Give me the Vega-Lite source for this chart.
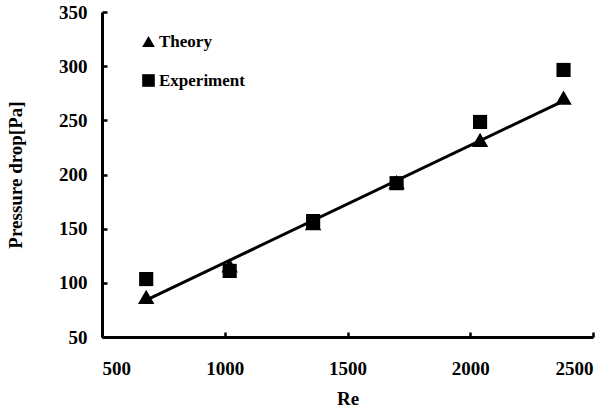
{
  "$schema": "https://vega.github.io/schema/vega-lite/v6.json",
  "width": 491,
  "height": 325,
  "autosize": "none",
  "padding": {"left": 102, "top": 12, "right": 21, "bottom": 72},
  "background": "white",
  "config": {
    "view": {"stroke": null},
    "font": "Liberation Serif",
    "axis": {
      "domainColor": "black",
      "domainWidth": 3,
      "tickColor": "black",
      "tickWidth": 2.5,
      "grid": false,
      "labelFont": "Liberation Serif",
      "labelFontWeight": "bold",
      "labelFontSize": 19,
      "labelColor": "black",
      "titleFont": "Liberation Serif",
      "titleFontWeight": "bold",
      "titleFontSize": 19,
      "titleColor": "black"
    }
  },
  "datasets": {
    "pts": [
      {"Re": 680, "dp": 87, "series": "Theory"},
      {"Re": 1020, "dp": 116, "series": "Theory"},
      {"Re": 1360, "dp": 155, "series": "Theory"},
      {"Re": 1700, "dp": 193, "series": "Theory"},
      {"Re": 2040, "dp": 232, "series": "Theory"},
      {"Re": 2380, "dp": 271, "series": "Theory"},
      {"Re": 680, "dp": 103.5, "series": "Experiment"},
      {"Re": 1020, "dp": 111, "series": "Experiment"},
      {"Re": 1360, "dp": 157, "series": "Experiment"},
      {"Re": 1700, "dp": 192, "series": "Experiment"},
      {"Re": 2040, "dp": 248.5, "series": "Experiment"},
      {"Re": 2380, "dp": 296.5, "series": "Experiment"}
    ],
    "fit": [
      {"Re": 680, "dp": 84},
      {"Re": 2380, "dp": 268}
    ]
  },
  "encoding": {
    "x": {"field": "Re", "type": "quantitative", "scale": {"domain": [500, 2500], "nice": false, "zero": false}, "axis": {"values": [500, 1000, 1500, 2000, 2500], "format": "d", "tickSize": -5, "labelPadding": 27, "title": "Re", "titlePadding": 11}},
    "y": {"field": "dp", "type": "quantitative", "scale": {"domain": [50, 350], "nice": false, "zero": false}, "axis": {"values": [50, 100, 150, 200, 250, 300, 350], "format": "d", "tickSize": -5, "labelPadding": 20, "title": "Pressure drop[Pa]", "titlePadding": 33}}
  },
  "layer": [
    {
      "data": {"name": "fit"},
      "mark": {"type": "line", "color": "black", "strokeWidth": 3}
    },
    {
      "data": {"name": "pts"},
      "transform": [{"filter": "datum.series === 'Experiment'"}],
      "mark": {"type": "point", "filled": true, "opacity": 1, "size": 200},
      "encoding": {
        "shape": {
          "field": "series", "type": "nominal",
          "scale": {"domain": ["Theory", "Experiment"], "range": ["triangle-up", "square"]},
          "legend": {
            "orient": "none", "legendX": 38, "legendY": 21, "title": null,
            "labelFont": "Liberation Serif", "labelFontWeight": "bold", "labelFontSize": 17, "labelColor": "black",
            "symbolFillColor": "black", "symbolStrokeColor": "black", "symbolSize": 160, "symbolOpacity": 1,
            "rowPadding": 21, "labelOffset": 2
          }
        },
        "color": {"value": "black"}
      }
    },
    {
      "data": {"name": "pts"},
      "transform": [{"filter": "datum.series === 'Theory'"}],
      "mark": {"type": "point", "filled": true, "opacity": 1, "size": 270},
      "encoding": {
        "shape": {"field": "series", "type": "nominal"},
        "color": {"value": "black"}
      }
    }
  ]
}
